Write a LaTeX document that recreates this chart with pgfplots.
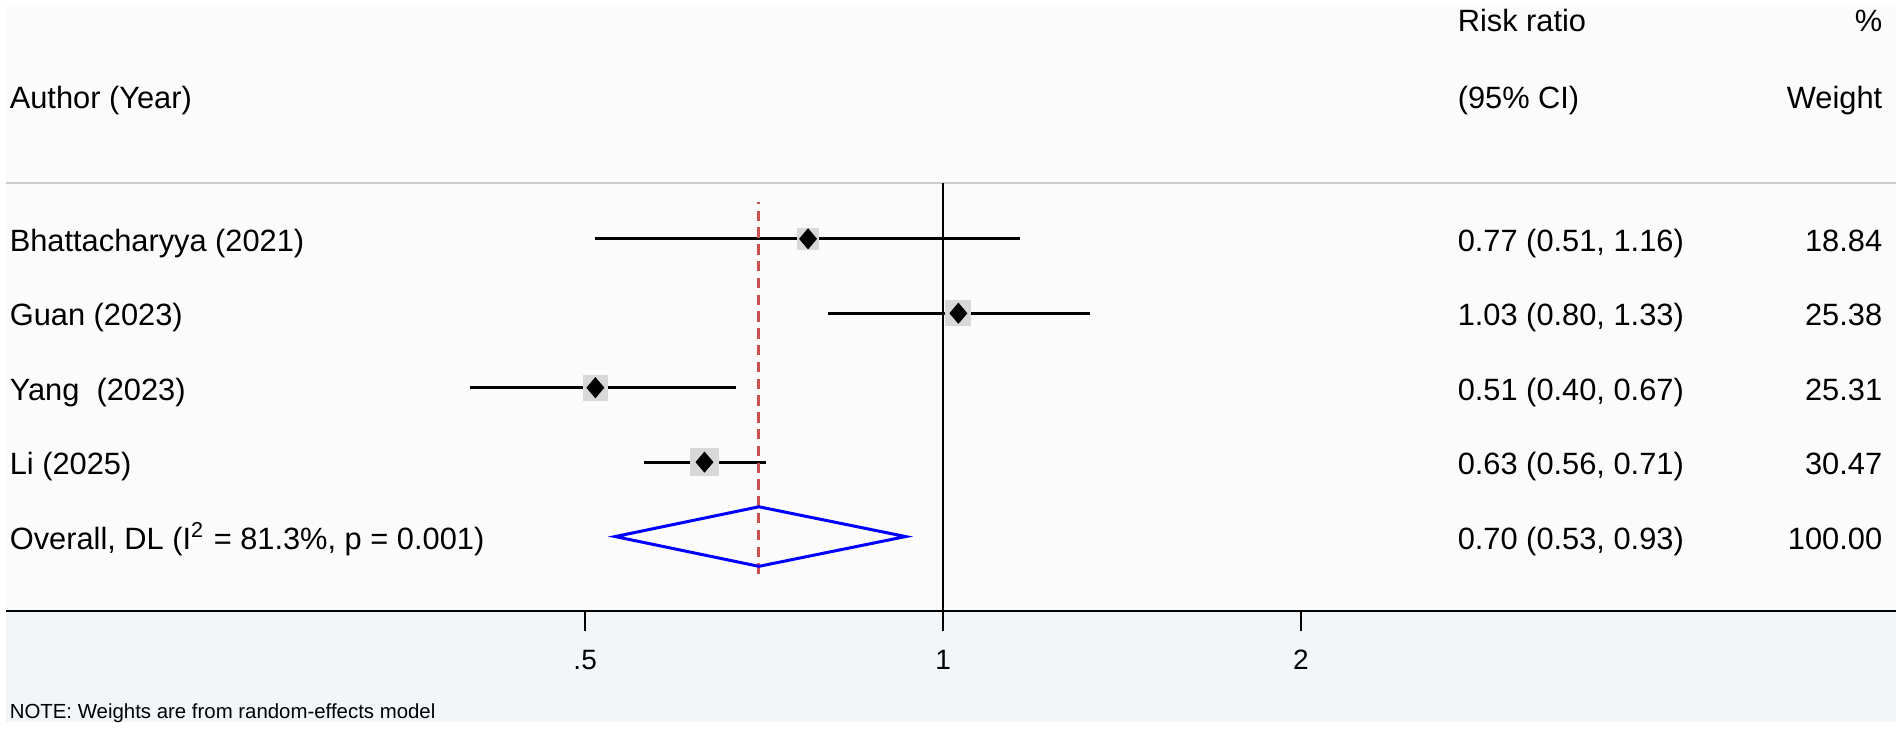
\documentclass[border=0pt]{standalone}
\usepackage{fontspec}
\setmainfont{Liberation Sans}
\usepackage{pgfplots}
\usepackage{pgfplotstable}
\pgfplotsset{compat=1.18}

\definecolor{refred}{RGB}{200,80,80}
\definecolor{boxgray}{RGB}{216,216,216}
\definecolor{rulegray}{RGB}{205,205,205}
\definecolor{topbg}{RGB}{251,251,251}
\definecolor{botbg}{RGB}{242,246,248}

% filled diamond for the point estimates
\pgfdeclareplotmark{estdiamond}{%
  \pgfpathmoveto{\pgfqpoint{0pt}{2.65pt}}%
  \pgfpathlineto{\pgfqpoint{2.25pt}{0pt}}%
  \pgfpathlineto{\pgfqpoint{0pt}{-2.65pt}}%
  \pgfpathlineto{\pgfqpoint{-2.25pt}{0pt}}%
  \pgfpathclose
  \pgfusepathqfill}

% y = row position, rr = risk ratio, lo/hi = 95% CI, w = weight (%)
\pgfplotstableread{
y rr   lo   hi   w
5 0.77 0.51 1.16 18.84
4 1.03 0.80 1.33 25.38
3 0.51 0.40 0.67 25.31
2 0.63 0.56 0.71 30.47
}\studies

\begin{document}
\begin{tikzpicture}[font=\fontsize{7.7}{9}\selectfont]
\begin{axis}[
    scale only axis,
    width=472.5pt, height=107pt,
    xmode=log,
    xmin=0.1629, xmax=6.33,
    ymin=0, ymax=5.75,
    clip=false,
    axis on top,
    axis x line*=bottom,
    axis y line=none,
    x axis line style={line width=0.6pt, black},
    xtick={0.5,1,2},
    xticklabels={.5,1,2},
    xminorticks=false,
    tick align=outside,
    major tick length=5pt,
    xtick style={black, line width=0.5pt},
    xticklabel style={font=\fontsize{7}{8}\selectfont, yshift=-1.2pt},
]
% backgrounds
\fill[white] (rel axis cs:-0.00317,-0.2780) rectangle (rel axis cs:1.00317,1.4276);
\fill[topbg] (rel axis cs:0,0) rectangle (rel axis cs:1,1.4159);
\fill[botbg] (rel axis cs:0,-0.2593) rectangle (rel axis cs:1,0);
\coordinate (pbl) at (rel axis cs:-0.00317,-0.2780);
\coordinate (ptr) at (rel axis cs:1.00317,1.4276);
\draw[rulegray, line width=0.5pt] (rel axis cs:0,1) -- (rel axis cs:1,1);

% header
\node[anchor=base west, inner sep=0] at (rel axis cs:0.0016,1.1752) {Author (Year)};
\node[anchor=base west, inner sep=0] at (rel axis cs:0.7677,1.3551) {Risk ratio};
\node[anchor=base west, inner sep=0] at (rel axis cs:0.7677,1.1752) {(95\% CI)};
\node[anchor=base east, inner sep=0] at (rel axis cs:0.9931,1.3551) {\%};
\node[anchor=base east, inner sep=0] at (rel axis cs:0.9931,1.1752) {Weight};

% line of no effect
\addplot[black, line width=0.5pt] coordinates {(1,0) (1,5.75)};

% weight boxes (side grows with sqrt of weight)
\addplot[only marks, mark=square*, scatter, point meta=explicit,
    visualization depends on={0.6*sqrt(\thisrow{w}) \as \bs},
    scatter/@pre marker code/.code={\scope[mark size=\bs pt, fill=boxgray, draw=boxgray]},
    scatter/@post marker code/.code={\endscope}]
    table[x=rr, y=y, meta=w] {\studies};

% confidence intervals
\addplot[draw=none, mark=none,
    error bars/.cd, x dir=both, x explicit, error mark=none,
    error bar style={draw=black, line width=0.7pt}]
    table[x=rr, y=y,
      x error plus expr=\thisrow{hi}-\thisrow{rr},
      x error minus expr=\thisrow{rr}-\thisrow{lo}] {\studies};

% pooled estimate line
\addplot[refred, line width=0.75pt, dash pattern=on 2.6pt off 1.6pt] coordinates {(0.70,0.5) (0.70,5.5)};

% point estimates
\addplot[only marks, mark=estdiamond, mark options={fill=black}]
    table[x=rr, y=y] {\studies};

% overall diamond
\addplot[blue, line width=0.75pt, line join=miter] coordinates {(0.53,1) (0.70,1.4) (0.93,1) (0.70,0.6) (0.53,1) (0.70,1.4)};

% study rows
\node[anchor=base west, inner sep=0] at ({rel axis cs:0.0016,0}|-{axis cs:1,4.83}) {Bhattacharyya (2021)};
\node[anchor=base west, inner sep=0] at ({rel axis cs:0.0016,0}|-{axis cs:1,3.83}) {Guan (2023)};
\node[anchor=base west, inner sep=0] at ({rel axis cs:0.0016,0}|-{axis cs:1,2.83}) {Yang\ \ (2023)};
\node[anchor=base west, inner sep=0] at ({rel axis cs:0.0016,0}|-{axis cs:1,1.83}) {Li (2025)};
\node[anchor=base west, inner sep=0] at ({rel axis cs:0.0016,0}|-{axis cs:1,0.83}) {Overall, DL (I\textsuperscript{2} = 81.3\%, p = 0.001)};

\node[anchor=base west, inner sep=0] at ({rel axis cs:0.7677,0}|-{axis cs:1,4.83}) {0.77 (0.51, 1.16)};
\node[anchor=base west, inner sep=0] at ({rel axis cs:0.7677,0}|-{axis cs:1,3.83}) {1.03 (0.80, 1.33)};
\node[anchor=base west, inner sep=0] at ({rel axis cs:0.7677,0}|-{axis cs:1,2.83}) {0.51 (0.40, 0.67)};
\node[anchor=base west, inner sep=0] at ({rel axis cs:0.7677,0}|-{axis cs:1,1.83}) {0.63 (0.56, 0.71)};
\node[anchor=base west, inner sep=0] at ({rel axis cs:0.7677,0}|-{axis cs:1,0.83}) {0.70 (0.53, 0.93)};

\node[anchor=base east, inner sep=0] at ({rel axis cs:0.9931,0}|-{axis cs:1,4.83}) {18.84};
\node[anchor=base east, inner sep=0] at ({rel axis cs:0.9931,0}|-{axis cs:1,3.83}) {25.38};
\node[anchor=base east, inner sep=0] at ({rel axis cs:0.9931,0}|-{axis cs:1,2.83}) {25.31};
\node[anchor=base east, inner sep=0] at ({rel axis cs:0.9931,0}|-{axis cs:1,1.83}) {30.47};
\node[anchor=base east, inner sep=0] at ({rel axis cs:0.9931,0}|-{axis cs:1,0.83}) {100.00};

% note
\node[anchor=base west, inner sep=0, font=\fontsize{5.1}{6}\selectfont] at (rel axis cs:0.0016,-0.2523) {NOTE: Weights are from random-effects model};
\end{axis}
\pgfresetboundingbox
\path[use as bounding box] (pbl) rectangle (ptr);
\end{tikzpicture}
\end{document}
